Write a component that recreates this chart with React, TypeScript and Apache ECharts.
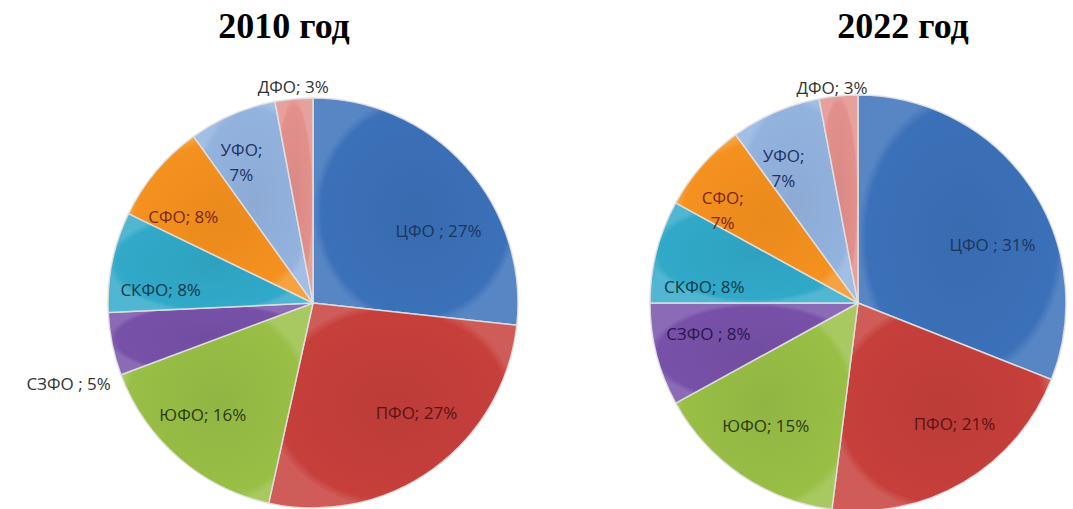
import React, { useEffect, useRef } from "react";
import * as echarts from "echarts";

const categories2010 = ["ЦФО ", "ПФО", "ЮФО", "СЗФО ", "СКФО", "СФО", "УФО", "ДФО"];
const values2010 = [27, 27, 16, 5, 8, 8, 7, 3];
const categories2022 = ["ЦФО ", "ПФО", "ЮФО", "СЗФО ", "СКФО", "СФО", "УФО", "ДФО"];
const values2022 = [31, 21, 15, 8, 8, 7, 7, 3];
const titles = ["2010 год", "2022 год"];

const sliceColors = ["#3b71b9", "#c63f3b", "#99bf46", "#7751a8", "#31a9c9", "#f5911f", "#93b3df", "#e3908c"];
const labelColors = ["#1c3560", "#5a1412", "#2c3a0e", "#2a1650", "#0f3a48", "#7a2810", "#1f3264", "#404040"];

// label offsets (layout only)
const offsets2010 = [[47, -2], [42, 24], [-41, 32], [-141, 59], [-49, 8], [-49, -19], [-30, -44], [-10, -111]];
const offsets2022 = [[46, 2], [42, 28], [-32, 34], [-46, 4], [-50, 10], [-55, -22], [-32, -37], [-16, -109]];
const twoLine2010 = [false, false, false, false, false, false, true, false];
const twoLine2022 = [false, false, false, false, false, true, true, false];

function shade(hex: string, amt: number) {
  const n = parseInt(hex.slice(1), 16);
  const r = (n >> 16) & 255, g = (n >> 8) & 255, b = n & 255;
  const f = (c: number) => Math.max(0, Math.min(255, Math.round(amt > 0 ? c + (255 - c) * amt : c * (1 + amt))));
  return `rgb(${f(r)},${f(g)},${f(b)})`;
}

function buildSeries(cats: string[], vals: number[], center: number[], radius: number, offs: number[][], twoLine: boolean[], outsideIdx: number[]) {
  return {
    type: "pie",
    center,
    radius,
    startAngle: 90,
    clockwise: true,
    avoidLabelOverlap: false,
    data: cats.map((c, i) => ({
      name: c,
      value: vals[i],
      itemStyle: {
        color: {
          type: "radial", x: 0.5, y: 0.5, r: 0.5,
          colorStops: [
            { offset: 0, color: shade(sliceColors[i], -0.05) },
            { offset: 0.92, color: sliceColors[i] },
            { offset: 1, color: shade(sliceColors[i], 0.15) },
          ],
        },
      },
      label: {
        color: outsideIdx.includes(i) ? "#333333" : labelColors[i],
        formatter: twoLine[i] ? `${c};\n${vals[i]}%` : `${c}; ${vals[i]}%`,
      },
    })),
    itemStyle: { borderColor: "rgba(225,225,225,0.9)", borderWidth: 1.5 },
    label: {
      show: true,
      position: "inside",
      fontFamily: "Open Sans",
      fontSize: 17,
      lineHeight: 25,
      align: "center",
    },
    labelLine: { show: false },
    labelLayout: (p: any) => ({ dx: offs[p.dataIndex][0], dy: offs[p.dataIndex][1] }),
    emphasis: { disabled: true },
  };
}

export default function App() {
  const ref = useRef<HTMLDivElement>(null);
  useEffect(() => {
    if (!ref.current) return;
    const chart = echarts.init(ref.current, undefined, { renderer: "svg" });
    chart.setOption({
      animation: false,
      backgroundColor: "#ffffff",
      graphic: [
        { type: "text", x: 284, y: 26, style: { text: titles[0], font: "bold 36px 'Liberation Serif'", fill: "#000", textAlign: "center", textVerticalAlign: "middle" } },
        { type: "text", x: 903, y: 26, style: { text: titles[1], font: "bold 36px 'Liberation Serif'", fill: "#000", textAlign: "center", textVerticalAlign: "middle" } },
      ],
      series: [
        buildSeries(categories2010, values2010, [313, 303], 205, offsets2010, twoLine2010, [3, 7]),
        buildSeries(categories2022, values2022, [858, 303], 208, offsets2022, twoLine2022, [7]),
      ],
    });
    return () => chart.dispose();
  }, []);
  return <div ref={ref} style={{ position: "fixed", left: 0, top: 0, width: 1073, height: 509 }} />;
}
